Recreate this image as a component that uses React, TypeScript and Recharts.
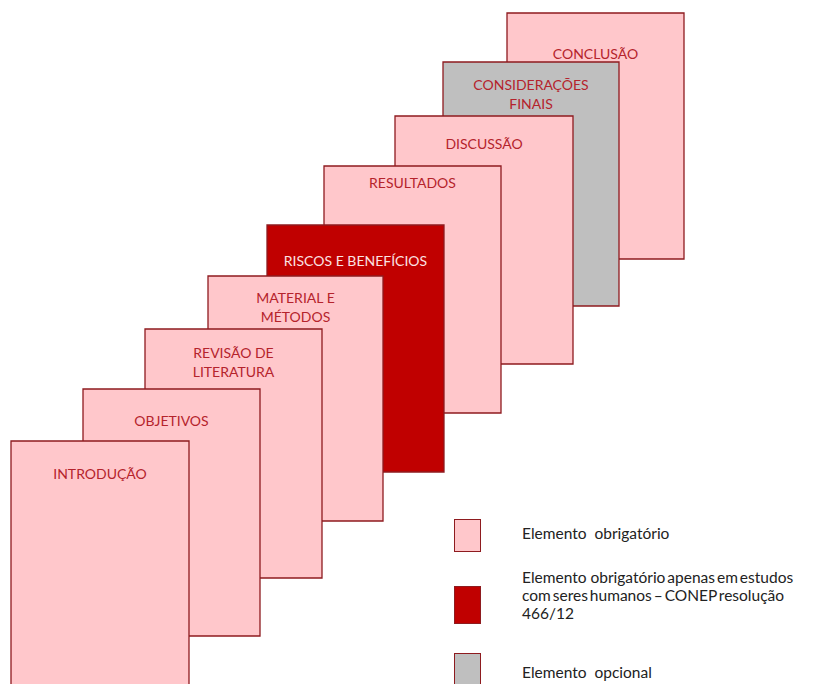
import React from "react";
import {
  ComposedChart,
  XAxis,
  YAxis,
  ReferenceArea,
  Scatter,
} from "recharts";

// sheets, front to back
const sections = [
  "INTRODUÇÃO",
  "OBJETIVOS",
  "REVISÃO DE|LITERATURA",
  "MATERIAL E|MÉTODOS",
  "RISCOS E BENEFÍCIOS",
  "RESULTADOS",
  "DISCUSSÃO",
  "CONSIDERAÇÕES|FINAIS",
  "CONCLUSÃO",
];
const sheetLeft = [11, 83, 145, 208, 267, 324, 395, 443, 507];
const sheetRight = [189, 260, 322, 383, 444, 501, 573, 619, 684];
const sheetTop = [441, 389, 329, 276, 225, 166, 116, 62, 13];
const sheetBottom = [720, 636, 578, 521, 472, 413, 364, 306, 259];
const sheetKind = [
  "obrigatorio",
  "obrigatorio",
  "obrigatorio",
  "obrigatorio",
  "humanos",
  "obrigatorio",
  "obrigatorio",
  "opcional",
  "obrigatorio",
];
const labelY = [473, 420, 352, 297, 260, 182, 143, 84, 53];

const legendItems = [
  { kind: "obrigatorio", text: ["Elemento  obrigatório"] },
  {
    kind: "humanos",
    text: [
      "Elemento  obrigatório apenas em estudos",
      "com seres humanos – CONEP resolução",
      "466/12",
    ],
  },
  { kind: "opcional", text: ["Elemento  opcional"] },
];

const FILL: Record<string, string> = {
  obrigatorio: "#ffc7cb",
  humanos: "#c00000",
  opcional: "#bfbfbf",
};
const STROKE = "#8e1b1f";
const TEXT_RED = "#b5232c";

const sheets = sections.map((name, i) => ({
  name,
  kind: sheetKind[i],
  x1: sheetLeft[i],
  x2: sheetRight[i],
  y1: sheetTop[i],
  y2: sheetBottom[i],
}));

const labels = sections.map((name, i) => ({
  x: (sheetLeft[i] + sheetRight[i]) / 2,
  y: labelY[i],
  name,
  kind: sheetKind[i],
}));

const SheetLabel = (props: any) => {
  const { cx, cy, payload } = props;
  const lines = String(payload.name).split("|");
  const color = payload.kind === "humanos" ? "#fbe3e3" : TEXT_RED;
  return (
    <text
      x={cx}
      y={cy}
      textAnchor="middle"
      fill={color}
      fontSize={14}
      fontFamily="Lato, 'Open Sans', sans-serif"
      dominantBaseline="central"
    >
      {lines.map((l, k) => (
        <tspan key={k} x={cx} dy={k === 0 ? 0 : 19}>
          {l}
        </tspan>
      ))}
    </text>
  );
};

const LegendBox = () => (
  <div
    style={{
      position: "absolute",
      left: 454,
      top: 519,
      fontFamily: "Lato, 'Open Sans', sans-serif",
      fontSize: 15.5,
      color: "#222",
    }}
  >
    {legendItems.map((item, i) => (
      <div
        key={i}
        style={{
          position: "absolute",
          left: 0,
          top: [0, 67, 134][i],
          display: "flex",
          alignItems: "flex-start",
        }}
      >
        <div
          style={{
            width: 27,
            height: [33, 38, 40][i],
            background: FILL[item.kind],
            border: `1.5px solid ${STROKE}`,
            boxSizing: "border-box",
            flexShrink: 0,
          }}
        />
        <div
          style={{
            marginLeft: 41,
            marginTop: [5, -18, 10][i],
            lineHeight: "18px",
            whiteSpace: "pre",
            wordSpacing: i === 1 ? -2 : 0,
          }}
        >
          {item.text.map((t, k) => (
            <div key={k}>{t}</div>
          ))}
        </div>
      </div>
    ))}
  </div>
);

export default function App() {
  return (
    <div
      style={{
        position: "absolute",
        left: 0,
        top: 0,
        width: 822,
        height: 684,
        overflow: "hidden",
        background: "#fff",
      }}
    >
      <ComposedChart
        width={822}
        height={684}
        margin={{ top: 0, right: 0, bottom: 0, left: 0 }}
        data={labels}
      >
        <XAxis type="number" dataKey="x" domain={[0, 822]} hide />
        <YAxis type="number" dataKey="y" domain={[0, 684]} reversed hide />
        {[...sheets].reverse().map((s) => (
          <ReferenceArea
            key={s.name}
            x1={s.x1}
            x2={s.x2}
            y1={s.y1}
            y2={s.y2}
            fill={FILL[s.kind]}
            fillOpacity={1}
            stroke={STROKE}
            strokeWidth={1.3}
            ifOverflow="hidden"
          />
        ))}
        <Scatter
          data={labels}
          dataKey="y"
          shape={<SheetLabel />}
          isAnimationActive={false}
        />
      </ComposedChart>
      <LegendBox />
    </div>
  );
}
